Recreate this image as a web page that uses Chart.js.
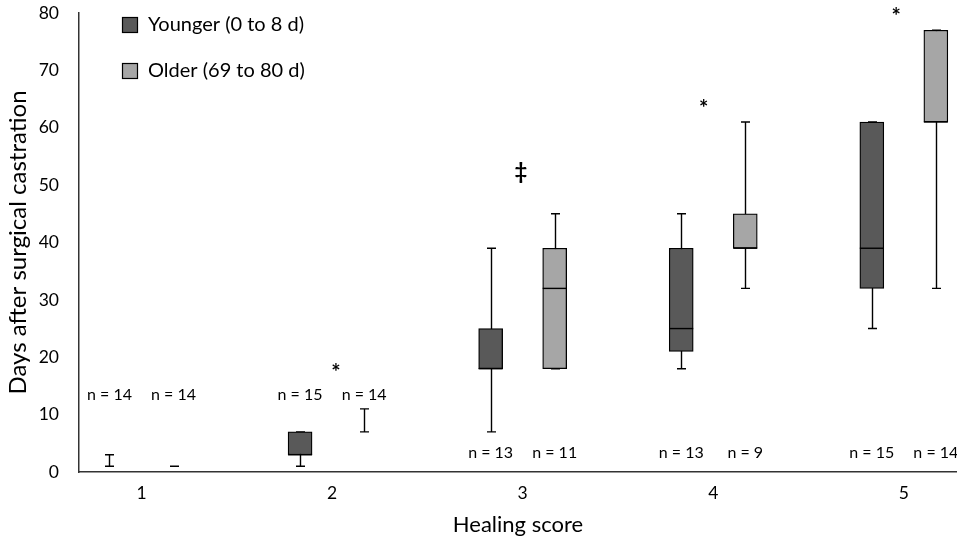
<!DOCTYPE html>
<html>
<head>
<meta charset="utf-8">
<script src="https://cdn.jsdelivr.net/npm/chart.js@4.4.0/dist/chart.umd.min.js"></script>
<style>
  html, body { margin: 0; padding: 0; background: #fff; }
  #wrap { width: 957px; height: 542px; }
</style>
</head>
<body>
<div id="wrap"><canvas id="chart" width="957" height="542"></canvas></div>
<script>
const scores = [1, 2, 3, 4, 5]
const groupLabels = ["Younger (0 to 8 d)", "Older (69 to 80 d)"]

// box stats per healing score (days after castration)
const youngMin = [1, 1, 7, 18, 25]
const youngQ1 = [1, 3, 18, 21, 32]
const youngMed = [1, 3, 18, 25, 39]
const youngQ3 = [1, 7, 25, 39, 61]
const youngMax = [3, 7, 39, 45, 61]

const oldMin = [1, 7, 18, 32, 32]
const oldQ1 = [1, 7, 18, 39, 61]
const oldMed = [1, 7, 32, 39, 61]
const oldQ3 = [1, 7, 39, 45, 77]
const oldMax = [1, 11, 45, 61, 77]

const nYoung = [14, 15, 13, 13, 15]
const nOld = [14, 14, 11, 9, 14]
const nLabelY = [13.4, 13.4, 3.3, 3.3, 3.3]

// significance marks (x on the score axis, y in days)
const sigX = [2.02, 2.99, 3.95, 4.96]
const sigY = [18, 53, 64, 80]
const sigMark = ["*", "‡", "*", "*"]

const OFF = 0.168 // half distance between the two boxes of one score
const FILL = ["#595959", "#a6a6a6"]
const FONT = "Lato, 'Open Sans', sans-serif"

const groups = [
  { min: youngMin, q1: youngQ1, med: youngMed, q3: youngQ3, max: youngMax, n: nYoung, dx: -OFF },
  { min: oldMin, q1: oldQ1, med: oldMed, q3: oldQ3, max: oldMax, n: nOld, dx: OFF },
]

function boxData(g) {
  const out = []
  scores.forEach((s, i) => {
    if (g.q3[i] > g.q1[i]) out.push({ x: s + g.dx, y: [g.q1[i], g.q3[i]] })
  })
  return out
}

const boxExtras = {
  id: "boxExtras",
  beforeDatasetsDraw(chart) {
    const { ctx } = chart
    const xs = chart.scales.x
    const ys = chart.scales.y
    ctx.save()
    ctx.strokeStyle = "#000"
    ctx.lineWidth = 1.4
    for (const g of groups) {
      scores.forEach((s, i) => {
        const x = Math.round(xs.getPixelForValue(s + g.dx)) + 0.5
        const yt = ys.getPixelForValue(g.max[i])
        const yb = ys.getPixelForValue(g.min[i])
        ctx.beginPath()
        ctx.moveTo(x, yt); ctx.lineTo(x, yb)
        ctx.moveTo(x - 4.5, yt); ctx.lineTo(x + 4.5, yt)
        ctx.moveTo(x - 4.5, yb); ctx.lineTo(x + 4.5, yb)
        ctx.stroke()
      })
    }
    ctx.restore()
  },
  afterDatasetsDraw(chart) {
    const { ctx } = chart
    const xs = chart.scales.x
    const ys = chart.scales.y
    ctx.save()
    ctx.strokeStyle = "#000"
    ctx.lineWidth = 1.4
    for (const g of groups) {
      scores.forEach((s, i) => {
        if (g.q3[i] <= g.q1[i]) return
        const x = xs.getPixelForValue(s + g.dx)
        const y = ys.getPixelForValue(g.med[i])
        ctx.beginPath()
        ctx.moveTo(x - 12, y); ctx.lineTo(x + 12, y)
        ctx.stroke()
      })
    }
    // n labels
    ctx.fillStyle = "#000"
    ctx.font = "16px " + FONT
    ctx.textAlign = "center"
    ctx.textBaseline = "middle"
    for (const g of groups) {
      scores.forEach((s, i) => {
        ctx.fillText("n = " + g.n[i], xs.getPixelForValue(s + g.dx), ys.getPixelForValue(nLabelY[i]))
      })
    }
    // significance marks
    ctx.font = "bold 22px " + FONT
    sigX.forEach((v, i) => {
      ctx.fillText(sigMark[i], xs.getPixelForValue(v), ys.getPixelForValue(sigY[i]) + 4)
    })
    // legend
    ctx.font = "20px " + FONT
    ctx.textAlign = "left"
    groupLabels.forEach((lab, i) => {
      const top = 17 + i * 46
      ctx.fillStyle = FILL[i]
      ctx.fillRect(122, top, 16, 16)
      ctx.lineWidth = 1.2
      ctx.strokeRect(122.5, top + 0.5, 15, 15)
      ctx.fillStyle = "#000"
      ctx.fillText(lab, 148, top + 8)
    })
    ctx.restore()
  },
}

Chart.defaults.font.family = FONT
Chart.defaults.color = "#000"

new Chart(document.getElementById("chart"), {
  type: "bar",
  data: {
    datasets: groups.map((g, i) => ({
      label: groupLabels[i],
      data: boxData(g),
      backgroundColor: FILL[i],
      borderColor: "#000",
      borderWidth: 1.3,
      borderSkipped: false,
      barThickness: 24,
      grouped: false,
    })),
  },
  options: {
    responsive: false,
    animation: false,
    devicePixelRatio: 1,
    layout: { padding: { top: 13, right: 0, left: 0, bottom: 0 } },
    plugins: { legend: { display: false }, tooltip: { enabled: false } },
    scales: {
      x: {
        type: "linear",
        offset: false,
        min: 0.672,
        max: 5.279,
        afterBuildTicks: (sc) => { sc.ticks = scores.map((v) => ({ value: v })) },
        afterFit: (sc) => { sc.height = 70 },
        grid: { display: false, drawTicks: false },
        border: { display: true, color: "#333", width: 1.5 },
        ticks: { padding: 11, font: { size: 17.5 }, callback: (v) => String(v) },
        title: { display: true, text: "Healing score", font: { size: 22 }, padding: { bottom: 4 } },
      },
      y: {
        min: 0,
        max: 80,
        afterFit: (sc) => { sc.width = 79; sc.paddingTop = 0; sc.paddingBottom = 0 },
        grid: { display: false, drawTicks: false },
        border: { display: true, color: "#333", width: 1.5 },
        ticks: { stepSize: 10, padding: 20, font: { size: 17.5 } },
        title: { display: true, text: "Days after surgical castration", font: { size: 24 }, padding: { top: 4 } },
      },
    },
  },
  plugins: [boxExtras],
})
</script>
</body>
</html>
